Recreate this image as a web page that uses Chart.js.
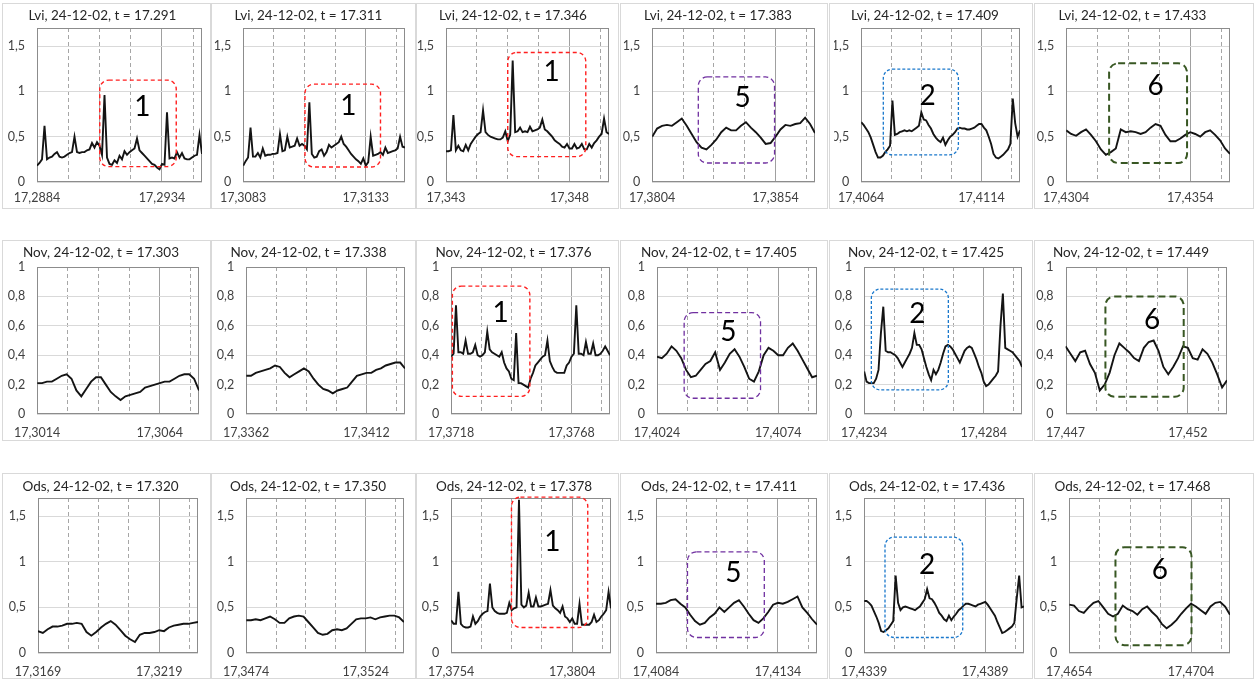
<!DOCTYPE html>
<html>
<head>
<meta charset="utf-8">
<script src="https://cdn.jsdelivr.net/npm/chart.js@4.4.1/dist/chart.umd.min.js"></script>
<style>
  body { margin: 0; background: #ffffff; }
  .panel { position: absolute; border: 1px solid #d9d9d9; box-sizing: border-box; background: #fff; }
  .panel canvas { display: block; }
</style>
</head>
<body>
<script>
// ---- data ----
const stations = ['Lvi', 'Nov', 'Ods'];
const dateLabel = '24-12-02';
const titleTimes = [
  ['17.291', '17.311', '17.346', '17.383', '17.409', '17.433'],
  ['17.303', '17.338', '17.376', '17.405', '17.425', '17.449'],
  ['17.320', '17.350', '17.378', '17.411', '17.436', '17.468']
];
const xStart = [
  [17.2884, 17.3083, 17.343, 17.3804, 17.4064, 17.4304],
  [17.3014, 17.3362, 17.3718, 17.4024, 17.4234, 17.447],
  [17.3169, 17.3474, 17.3754, 17.4084, 17.4339, 17.4654]
];
const xTickLabels = [
  [['17,2884', '17,2934'], ['17,3083', '17,3133'], ['17,343', '17,348'], ['17,3804', '17,3854'], ['17,4064', '17,4114'], ['17,4304', '17,4354']],
  [['17,3014', '17,3064'], ['17,3362', '17,3412'], ['17,3718', '17,3768'], ['17,4024', '17,4074'], ['17,4234', '17,4284'], ['17,447', '17,452']],
  [['17,3169', '17,3219'], ['17,3474', '17,3524'], ['17,3754', '17,3804'], ['17,4084', '17,4134'], ['17,4339', '17,4389'], ['17,4654', '17,4704']]
];
const xSpan = 0.0066;
const xMajorStep = 0.005;
const xMinorOffsets = [0.00125, 0.0025, 0.00375, 0.00625];

const yMaxByRow = [1.7, 1, 1.7];
const yTicksByRow = [[0, 0.5, 1, 1.5], [0, 0.2, 0.4, 0.6, 0.8, 1], [0, 0.5, 1, 1.5]];
const yLabelsByRow = [['0', '0,5', '1', '1,5'], ['0', '0,2', '0,4', '0,6', '0,8', '1'], ['0', '0,5', '1', '1,5']];

const lvi1 = [0.18,0.21,0.25,0.62,0.25,0.27,0.28,0.31,0.33,0.28, 0.27,0.28,0.3,0.32,0.33,0.5,0.33,0.32,0.33,0.33,
  0.35,0.36,0.43,0.38,0.44,0.4,0.3,0.96,0.27,0.2, 0.19,0.24,0.21,0.29,0.25,0.34,0.3,0.33,0.35,0.37,
  0.48,0.35,0.32,0.29,0.26,0.23,0.2,0.19,0.16,0.14, 0.2,0.19,0.77,0.26,0.27,0.26,0.33,0.27,0.32,0.26,
  0.25,0.25,0.27,0.29,0.3,0.52,0.31];
const lvi2 = [0.18,0.23,0.27,0.6,0.28,0.28,0.32,0.27,0.37,0.29, 0.3,0.3,0.31,0.31,0.32,0.53,0.34,0.35,0.5,0.38,
  0.39,0.4,0.48,0.4,0.42,0.4,0.36,0.88,0.31,0.27, 0.28,0.34,0.36,0.29,0.33,0.41,0.38,0.4,0.42,0.44,
  0.5,0.42,0.39,0.35,0.31,0.28,0.25,0.23,0.2,0.26, 0.18,0.22,0.5,0.29,0.3,0.31,0.33,0.3,0.38,0.32,
  0.33,0.34,0.35,0.37,0.5,0.39,0.38];
const lvi3 = [0.34,0.34,0.35,0.74,0.35,0.4,0.35,0.34,0.41,0.35, 0.42,0.46,0.5,0.53,0.55,0.79,0.55,0.52,0.5,0.49,
  0.48,0.47,0.47,0.49,0.56,0.45,0.52,1.34,0.55,0.56, 0.6,0.55,0.56,0.55,0.61,0.56,0.57,0.58,0.6,0.69,
  0.58,0.56,0.53,0.5,0.46,0.44,0.42,0.39,0.38,0.42, 0.37,0.37,0.42,0.37,0.38,0.42,0.36,0.36,0.42,0.38,
  0.43,0.46,0.5,0.53,0.7,0.55,0.53];
const lvi4 = [0.5,0.59,0.62,0.63,0.62,0.66,0.7,0.62,0.53,0.44, 0.38,0.36,0.41,0.47,0.55,0.6,0.57,0.57,0.62,0.66,
  0.6,0.55,0.49,0.42,0.43,0.5,0.58,0.63,0.62,0.64, 0.65,0.71,0.64,0.54];
const lvi5 = [0.66,0.63,0.59,0.55,0.49,0.41,0.33,0.27,0.27,0.29, 0.33,0.36,0.4,0.9,0.52,0.53,0.55,0.56,0.57,0.56,
  0.57,0.56,0.58,0.6,0.62,0.77,0.69,0.68,0.63,0.59, 0.53,0.49,0.46,0.44,0.49,0.41,0.46,0.5,0.52,0.55,
  0.59,0.6,0.59,0.59,0.58,0.58,0.59,0.6,0.62,0.64, 0.64,0.6,0.57,0.5,0.42,0.31,0.27,0.26,0.28,0.3,
  0.33,0.36,0.42,0.92,0.65,0.5,0.57];
const lvi6 = [0.57,0.53,0.51,0.55,0.58,0.52,0.45,0.36,0.3,0.33, 0.37,0.58,0.55,0.56,0.55,0.53,0.55,0.6,0.64,0.62,
  0.52,0.45,0.45,0.48,0.52,0.55,0.53,0.5,0.55,0.57, 0.52,0.46,0.37,0.31];

const nov1 = [0.21,0.21,0.22,0.22,0.24,0.26,0.27,0.24,0.16,0.12, 0.17,0.22,0.25,0.25,0.2,0.15,0.12,0.095,0.12,0.13,
  0.14,0.15,0.18,0.19,0.2,0.21,0.22,0.22,0.24,0.26, 0.27,0.27,0.24,0.16];
const nov2 = [0.26,0.26,0.28,0.29,0.3,0.31,0.33,0.32,0.28,0.25, 0.27,0.29,0.31,0.29,0.24,0.2,0.17,0.16,0.14,0.16,
  0.17,0.18,0.22,0.26,0.27,0.28,0.28,0.3,0.31,0.33, 0.34,0.35,0.35,0.31];
const nov3 = [0.39,0.41,0.74,0.42,0.42,0.41,0.5,0.41,0.41,0.42, 0.47,0.4,0.39,0.4,0.42,0.56,0.44,0.42,0.41,0.4,
  0.39,0.42,0.35,0.31,0.29,0.24,0.23,0.55,0.21,0.21, 0.2,0.19,0.18,0.24,0.28,0.33,0.35,0.37,0.39,0.4,
  0.5,0.36,0.32,0.29,0.28,0.28,0.28,0.28,0.33,0.35, 0.39,0.41,0.74,0.41,0.41,0.4,0.49,0.41,0.41,0.48,
  0.4,0.4,0.41,0.43,0.46,0.43,0.4];
const nov4 = [0.39,0.38,0.41,0.46,0.43,0.38,0.3,0.25,0.26,0.3, 0.34,0.36,0.42,0.3,0.35,0.41,0.44,0.39,0.32,0.24,
  0.22,0.29,0.4,0.45,0.43,0.4,0.4,0.45,0.48,0.43, 0.37,0.31,0.25,0.26];
const nov5 = [0.29,0.22,0.21,0.21,0.21,0.24,0.3,0.55,0.73,0.43, 0.42,0.42,0.41,0.4,0.38,0.35,0.32,0.35,0.38,0.41,
  0.45,0.55,0.47,0.47,0.44,0.38,0.32,0.27,0.23,0.3, 0.27,0.3,0.35,0.41,0.46,0.47,0.46,0.44,0.41,0.38,
  0.35,0.39,0.43,0.45,0.46,0.45,0.41,0.37,0.32,0.28, 0.22,0.19,0.2,0.22,0.24,0.26,0.29,0.6,0.82,0.45,
  0.44,0.43,0.42,0.4,0.38,0.36,0.32];
const nov6 = [0.46,0.41,0.36,0.42,0.43,0.34,0.28,0.16,0.2,0.28, 0.4,0.48,0.45,0.42,0.38,0.36,0.45,0.49,0.5,0.43,
  0.32,0.27,0.32,0.38,0.46,0.45,0.38,0.37,0.44,0.41, 0.35,0.27,0.18,0.23];

const ods1 = [0.24,0.22,0.26,0.29,0.29,0.3,0.32,0.32,0.33,0.32, 0.23,0.19,0.23,0.28,0.32,0.35,0.31,0.25,0.19,0.15,
  0.12,0.2,0.22,0.22,0.23,0.25,0.24,0.28,0.3,0.31, 0.32,0.32,0.33,0.34];
const ods2 = [0.36,0.36,0.37,0.36,0.38,0.4,0.37,0.33,0.33,0.38, 0.4,0.41,0.4,0.34,0.28,0.22,0.2,0.21,0.25,0.26,
  0.25,0.27,0.32,0.37,0.38,0.38,0.39,0.37,0.39,0.4, 0.41,0.41,0.39,0.34];
const ods3 = [0.36,0.32,0.32,0.67,0.32,0.29,0.28,0.28,0.29,0.4, 0.32,0.35,0.4,0.43,0.45,0.46,0.76,0.5,0.46,0.44,
  0.43,0.43,0.43,0.44,0.55,0.47,0.49,0.5,1.68,0.53, 0.5,0.52,0.66,0.51,0.51,0.61,0.51,0.51,0.52,0.53,
  0.54,0.69,0.52,0.49,0.47,0.44,0.51,0.4,0.38,0.34, 0.38,0.32,0.32,0.54,0.31,0.31,0.31,0.31,0.34,0.42,
  0.34,0.36,0.4,0.43,0.47,0.67,0.49];
const ods4 = [0.54,0.54,0.55,0.58,0.59,0.54,0.5,0.42,0.35,0.31, 0.33,0.39,0.43,0.5,0.45,0.5,0.55,0.58,0.51,0.43,
  0.36,0.33,0.38,0.45,0.53,0.55,0.54,0.56,0.59,0.62, 0.5,0.44,0.37,0.31];
const ods5 = [0.57,0.57,0.55,0.52,0.46,0.4,0.33,0.24,0.23,0.25, 0.27,0.31,0.35,0.85,0.55,0.47,0.5,0.51,0.5,0.49,
  0.48,0.47,0.49,0.51,0.55,0.59,0.7,0.6,0.59,0.55, 0.5,0.44,0.41,0.37,0.35,0.41,0.36,0.4,0.43,0.47,
  0.49,0.52,0.54,0.54,0.53,0.52,0.51,0.53,0.54,0.55, 0.56,0.53,0.49,0.45,0.41,0.34,0.28,0.22,0.23,0.25,
  0.27,0.29,0.33,0.6,0.85,0.5,0.51];
const ods6 = [0.53,0.52,0.46,0.44,0.5,0.55,0.57,0.5,0.43,0.4, 0.43,0.52,0.48,0.46,0.42,0.48,0.51,0.45,0.4,0.32,
  0.27,0.31,0.36,0.43,0.49,0.54,0.51,0.47,0.43,0.51, 0.55,0.56,0.51,0.42];

const series = [
  [lvi1, lvi2, lvi3, lvi4, lvi5, lvi6],
  [nov1, nov2, nov3, nov4, nov5, nov6],
  [ods1, ods2, ods3, ods4, ods5, ods6]
];

// marked zones: [label, x from, x to (offset from panel start), y from, y to, label x, label y]
const zones = [
  [['1', 0.00251, 0.00557, 0.17, 1.125, 0.00421, 0.83], ['1', 0.00252, 0.0056, 0.165, 1.08, 0.00429, 0.84],
   ['1', 0.0025, 0.00566, 0.28, 1.43, 0.00428, 1.21], ['5', 0.00187, 0.00496, 0.21, 1.16, 0.00367, 0.93],
   ['2', 0.00092, 0.00404, 0.30, 1.245, 0.00276, 0.95], ['6', 0.00173, 0.00487, 0.21, 1.31, 0.0036, 1.06]],
  [null, null,
   ['1', 0.00005, 0.00327, 0.12, 0.87, 0.00205, 0.69], ['5', 0.00112, 0.00427, 0.107, 0.69, 0.00294, 0.56],
   ['2', 0.0003, 0.00352, 0.164, 0.85, 0.00222, 0.68], ['6', 0.00163, 0.00483, 0.118, 0.8, 0.00354, 0.64]],
  [null, null,
   ['1', 0.00249, 0.00564, 0.28, 1.71, 0.00418, 1.22], ['5', 0.00129, 0.00444, 0.17, 1.11, 0.00317, 0.88],
   ['2', 0.00086, 0.00407, 0.17, 1.27, 0.0026, 0.97], ['6', 0.0019, 0.00502, 0.085, 1.16, 0.00372, 0.91]]
];
const zoneStyle = {
  '1': { color: '#ff1f1f', dash: [4, 3], width: 1.4 },
  '5': { color: '#7030a0', dash: [5, 3], width: 1.3 },
  '2': { color: '#1a78cc', dash: [3, 2], width: 1.3 },
  '6': { color: '#385723', dash: [7, 4], width: 2 }
};

// ---- page layout (pixels) ----
const colLeft  = [2, 211, 416, 620, 829, 1034];
const colRight = [210, 415, 618, 827, 1032, 1253];
const rowTop    = [3, 240, 473];
const rowBottom = [208, 440, 678];
const plotL = [[37, 243, 446, 650, 857, 1065], [37, 243, 449, 657, 861, 1065], [38, 241, 449, 656, 863, 1066]];
const plotR = [[202, 405, 609, 815, 1020, 1230], [199, 405, 610, 817, 1022, 1227], [198, 404, 611, 817, 1024, 1230]];
const plotT = [28, 267, 498];
const plotB = [182, 414, 653];
const titleY = [16, 253, 487];
const xLabelPad = [8, 11, 11];

const FONT = 'Lato, Calibri, Carlito, sans-serif';
const TITLE_SIZE = 13.5;

Chart.defaults.font.family = FONT;
Chart.defaults.color = '#404040';

function framePlugin() {
  return {
    id: 'frame',
    beforeDatasetsDraw(chart) {
      const a = chart.chartArea, ctx = chart.ctx;
      ctx.save();
      ctx.strokeStyle = '#8c8c8c';
      ctx.lineWidth = 1;
      ctx.strokeRect(Math.round(a.left) + 0.5, Math.round(a.top) + 0.5,
        Math.round(a.right - a.left) - 1, Math.round(a.bottom - a.top) - 1);
      ctx.restore();
    }
  };
}

function zonePlugin(zone, x0) {
  return {
    id: 'zone',
    afterDatasetsDraw(chart) {
      if (!zone) return;
      const xs = chart.scales.x, ys = chart.scales.y, ctx = chart.ctx;
      const st = zoneStyle[zone[0]];
      const l = xs.getPixelForValue(x0 + zone[1]), r = xs.getPixelForValue(x0 + zone[2]);
      const b = ys.getPixelForValue(zone[3]), t = ys.getPixelForValue(zone[4]);
      ctx.save();
      ctx.strokeStyle = st.color;
      ctx.lineWidth = st.width;
      ctx.setLineDash(st.dash);
      ctx.beginPath();
      ctx.roundRect(l, t, r - l, b - t, 9);
      ctx.stroke();
      ctx.setLineDash([]);
      ctx.fillStyle = '#000';
      ctx.font = '28px ' + FONT;
      ctx.textAlign = 'center';
      ctx.textBaseline = 'middle';
      ctx.fillText(zone[0], xs.getPixelForValue(x0 + zone[5]), ys.getPixelForValue(zone[6]));
      ctx.restore();
    }
  };
}

function makePanel(r, c) {
  const left = colLeft[c], top = rowTop[r];
  const w = colRight[c] - left + 1, h = rowBottom[r] - top + 1;
  const cw = w - 2, ch = h - 2;

  const div = document.createElement('div');
  div.className = 'panel';
  div.style.left = left + 'px';
  div.style.top = top + 'px';
  div.style.width = w + 'px';
  div.style.height = h + 'px';
  const cv = document.createElement('canvas');
  cv.width = cw; cv.height = ch;
  cv.style.width = cw + 'px'; cv.style.height = ch + 'px';
  div.appendChild(cv);
  document.body.appendChild(div);

  const x0 = xStart[r][c];
  const vals = series[r][c];
  const n = vals.length;
  const pts = vals.map((v, i) => ({ x: x0 + i * xSpan / (n - 1), y: v }));

  const lh = TITLE_SIZE * 1.2;
  const padTop = (titleY[r] - top - 1) - lh / 2;
  const padBottom = (plotT[r] - top - 1) - padTop - lh;
  const yAxisW = plotL[r][c] - left - 1;
  const xAxisH = ch - (plotB[r] - top - 1);
  const yTicks = yTicksByRow[r], yLabels = yLabelsByRow[r];
  const xLabels = xTickLabels[r][c];

  new Chart(cv, {
    type: 'line',
    data: {
      datasets: [{
        data: pts,
        borderColor: '#141414',
        borderWidth: 1.9,
        pointRadius: 0,
        tension: 0
      }]
    },
    options: {
      responsive: false,
      animation: false,
      devicePixelRatio: 1,
      layout: { padding: { left: 0, top: 0, bottom: 0, right: colRight[c] - plotR[r][c] } },
      plugins: {
        legend: { display: false },
        tooltip: { enabled: false },
        title: {
          display: true,
          text: stations[r] + ', ' + dateLabel + ', t = ' + titleTimes[r][c],
          color: '#262626',
          font: { size: TITLE_SIZE, weight: 'normal', lineHeight: 1.2 },
          padding: { top: padTop, bottom: padBottom }
        }
      },
      scales: {
        x: {
          type: 'linear',
          position: 'bottom',
          min: x0,
          max: x0 + xSpan,
          afterBuildTicks: s => { s.ticks = [{ value: x0 }, { value: x0 + xMajorStep }]; },
          afterFit: s => { s.height = xAxisH; },
          ticks: {
            autoSkip: false, maxRotation: 0, padding: xLabelPad[r],
            font: { size: 12.5 }, color: '#404040',
            callback: (v, i) => xLabels[i]
          },
          grid: { drawTicks: false, lineWidth: 1, color: ctx => ctx.index === 1 ? '#a0a0a0' : 'rgba(0,0,0,0)' },
          border: { display: false }
        },
        xm: {
          type: 'linear',
          position: 'bottom',
          min: x0,
          max: x0 + xSpan,
          afterBuildTicks: s => { s.ticks = xMinorOffsets.map(o => ({ value: x0 + o })); },
          afterFit: s => { s.height = 0; },
          ticks: { display: false },
          grid: { drawTicks: false, color: '#a6a6a6', lineWidth: 1 },
          border: { display: false, dash: [4, 3] }
        },
        y: {
          min: 0,
          max: yMaxByRow[r],
          afterBuildTicks: s => { s.ticks = yTicks.map(v => ({ value: v })); },
          afterFit: s => { s.width = yAxisW; },
          ticks: {
            padding: 12, font: { size: 12.5 }, color: '#404040',
            callback: (v, i) => yLabels[i]
          },
          grid: { drawTicks: false, color: '#d9d9d9', lineWidth: 1 },
          border: { display: false }
        }
      }
    },
    plugins: [framePlugin(), zonePlugin(zones[r][c], x0)]
  });
}

for (let r = 0; r < 3; r++) {
  for (let c = 0; c < 6; c++) {
    makePanel(r, c);
  }
}
</script>
</body>
</html>
